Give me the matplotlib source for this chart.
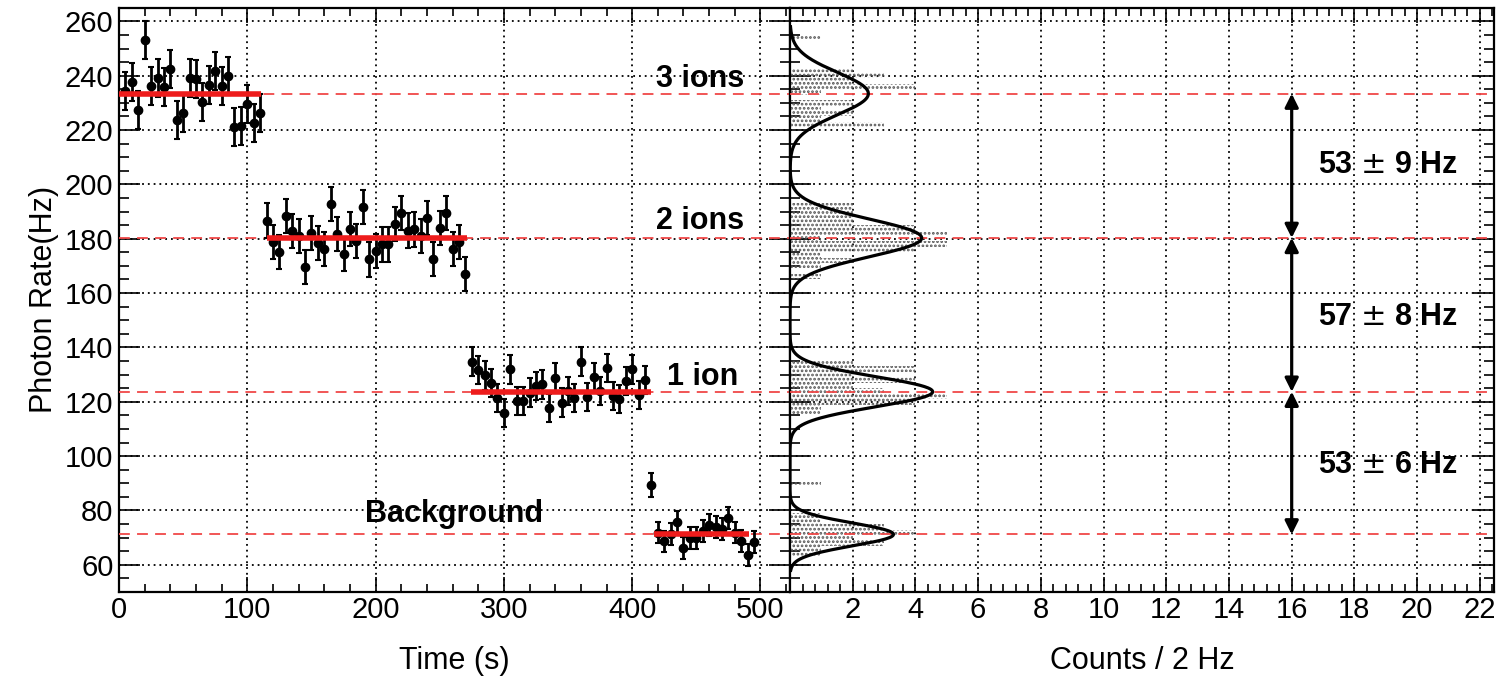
import matplotlib as mpl
mpl.use('Agg')
import matplotlib.pyplot as plt
import numpy as np

plt.rcParams['font.family'] = ['Liberation Sans', 'DejaVu Sans']
plt.rcParams['hatch.linewidth'] = 1.3

# photon rate samples (Hz), 5 s bins, one array per ion number
t_3ions = np.arange(5, 115, 5)
r_3ions = [234.3, 237.6, 227.5, 253.0, 236.3, 239.2, 235.9, 242.5, 223.7, 226.1, 239.2,
           238.9, 230.3, 236.7, 241.6, 236.1, 239.8, 221.0, 221.4, 229.7, 222.6, 226.1]
t_2ions = np.arange(115, 275, 5)
r_2ions = [186.7, 178.7, 175.2, 188.5, 182.8, 181.0, 169.6, 182.1, 178.5, 176.2, 192.8,
           181.8, 174.5, 183.6, 179.1, 191.6, 172.4, 175.4, 177.9, 177.9, 185.5, 189.4,
           183.0, 183.4, 181.0, 187.7, 172.6, 184.0, 189.5, 176.3, 178.9, 166.9]
t_1ion = np.arange(275, 415, 5)
r_1ion = [134.8, 131.6, 129.7, 127.0, 121.3, 116.0, 131.9, 120.3, 120.3, 123.4, 125.8,
          126.4, 117.8, 128.9, 119.7, 124.0, 121.5, 134.8, 121.8, 129.1, 124.0, 132.5,
          122.1, 120.9, 127.6, 131.9, 122.4, 128.0]
t_jump = [415]
r_jump = [89.4]
t_bkg = np.arange(420, 500, 5)
r_bkg = [71.9, 68.6, 71.3, 75.8, 66.1, 70.0, 69.8, 72.5, 74.7, 74.0, 73.1, 77.2,
         71.9, 68.8, 63.6, 68.5]
err_3ions, err_2ions, err_1ion, err_jump, err_bkg = 7.0, 6.3, 5.2, 4.4, 4.0

# fitted plateau levels and their time ranges
levels = [233.4, 180.3, 123.7, 71.2]
fit_ranges = [(0, 111), (115, 271), (274, 415), (417, 491)]

# gaussian fits to the rate histogram: amplitude (counts), sigma (Hz)
gauss_amp = [2.5, 4.2, 4.55, 3.3]
gauss_sigma = [7.8, 6.9, 5.5, 4.2]

steps = ['53 $\\pm$ 9 Hz', '57 $\\pm$ 8 Hz', '53 $\\pm$ 6 Hz']
step_y = [207.0, 151.2, 96.7]

state_labels = ['3 ions', '2 ions', '1 ion', 'Background']
state_pos = [(453, 238.9), (453, 186.7), (455, 129.1), (261, 78.8)]

red = '#ee1c1c'
dash_red = '#f04848'
grid_kw = dict(color='black', linestyle=(0, (1, 2.2)), linewidth=1.3)

fig = plt.figure(figsize=(15.01, 6.79), dpi=100)
ax1 = fig.add_axes([0.0793, 0.1281, 0.4470, 0.8605])
ax2 = fig.add_axes([0.5263, 0.1281, 0.4690, 0.8605], sharey=ax1)

# --- left: rate vs time ---
for t, r, e in [(t_3ions, r_3ions, err_3ions), (t_2ions, r_2ions, err_2ions),
                (t_1ion, r_1ion, err_1ion), (t_jump, r_jump, err_jump),
                (t_bkg, r_bkg, err_bkg)]:
    ax1.errorbar(t, r, yerr=e, fmt='o', color='black', ms=6, elinewidth=2,
                 capsize=2, capthick=1.5, zorder=4)
for lvl, (a, b) in zip(levels, fit_ranges):
    ax1.plot([a, b], [lvl, lvl], color=red, lw=4, solid_capstyle='butt', zorder=5)

for ax in (ax1, ax2):
    for lvl in levels:
        ax.axhline(lvl, color=dash_red, lw=1.3, dashes=(6, 4), zorder=3)

for txt, (x, y) in zip(state_labels, state_pos):
    ax1.text(x, y, txt, fontsize=22, fontweight='bold', ha='center', va='center', zorder=6)

ax1.set_xlim(0, 523)
ax1.set_ylim(50, 265)
ax1.set_xticks(np.arange(0, 501, 100))
ax1.set_xticks(np.arange(0, 523, 20), minor=True)
ax1.set_yticks(np.arange(60, 261, 20))
ax1.set_yticks(np.arange(50, 265, 5), minor=True)
ax1.set_xlabel('Time (s)', fontsize=22, labelpad=16)
ax1.set_ylabel('Photon Rate(Hz)', fontsize=22, labelpad=4)

# --- right: histogram of rates ---
all_rates = np.concatenate([r_3ions, r_2ions, r_1ion, r_jump, r_bkg])
bins = np.arange(51, 266, 2)
ax2.hist(all_rates, bins=bins, orientation='horizontal', histtype='stepfilled',
         facecolor='none', edgecolor='#555555', hatch='....', linewidth=0, zorder=2)

yy = np.linspace(58, 258, 800)
curve = sum(a * np.exp(-0.5 * ((yy - m) / s) ** 2)
            for a, m, s in zip(gauss_amp, levels, gauss_sigma))
ax2.plot(curve, yy, color='black', lw=2.3, zorder=4)

for i in range(3):
    ax2.annotate('', xy=(16, levels[i + 1]), xytext=(16, levels[i]),
                 arrowprops=dict(arrowstyle='<|-|>', color='black', lw=2.3,
                                 mutation_scale=20, shrinkA=0, shrinkB=0), zorder=5)
    ax2.text(16.85, step_y[i], steps[i], fontsize=22, fontweight='bold',
             ha='left', va='center', zorder=6)

ax2.set_xlim(0, 22.45)
ax2.set_xticks(np.arange(0, 23, 2))
ax2.set_xticks(np.arange(0, 22.45, 0.4), minor=True)
ax2.set_xticklabels([''] + [str(v) for v in range(2, 23, 2)])
ax2.set_xlabel('Counts / 2 Hz', fontsize=22, labelpad=16)
ax2.tick_params(labelleft=False)

for ax in (ax1, ax2):
    ax.grid(True, which='major', **grid_kw)
    ax.set_axisbelow(True)
    for sp in ax.spines.values():
        sp.set_linewidth(1.6)
    ax.tick_params(which='both', direction='in', top=True, right=True,
                   labelsize=21, width=1.2)
    ax.tick_params(axis='x', which='major', length=11, pad=3)
    ax.tick_params(axis='x', which='minor', length=6)
    ax.tick_params(axis='y', which='major', length=15, pad=4)
    ax.tick_params(axis='y', which='minor', length=7.5)

fig.savefig('out.png', dpi=100)
